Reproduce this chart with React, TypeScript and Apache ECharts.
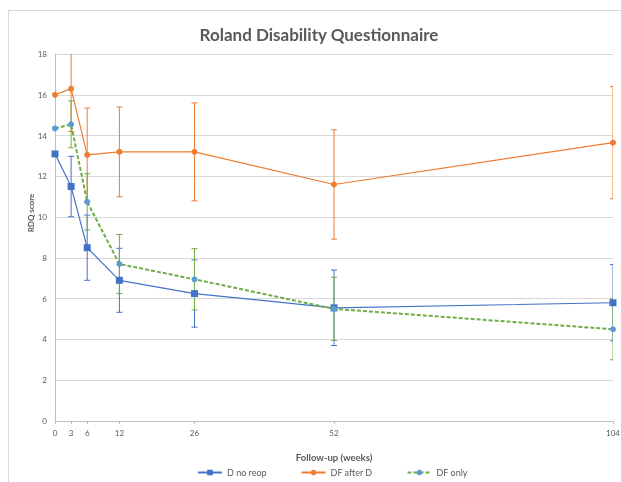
import React, { useEffect, useRef } from "react";
import * as echarts from "echarts";

const weeks = [0, 3, 6, 12, 26, 52, 104];
const xTickLabels = [0, 3, 6, 12, 26, 52, 104];

const dNoReop = [13.1, 11.5, 8.5, 6.9, 6.25, 5.55, 5.8];
const dNoReopErr = [0, 1.48, 1.6, 1.57, 1.65, 1.85, 1.87];

const dfAfterD = [16.0, 16.3, 13.05, 13.2, 13.2, 11.6, 13.65];
const dfAfterDErr = [0, 2.1, 2.3, 2.2, 2.4, 2.68, 2.75];

const dfOnly = [14.35, 14.55, 10.75, 7.7, 6.95, 5.5, 4.5];
const dfOnlyErr = [0, 1.15, 1.38, 1.45, 1.5, 1.55, 1.5];

const BLUE = "#4472C4";
const ORANGE = "#ED7D31";
const GREEN = "#70AD47";
const LBLUE = "#5B9BD5";

function errSeries(name: string, vals: number[], errs: number[], color: string) {
  const data = weeks
    .map((w, i) => [w, vals[i] - errs[i], vals[i] + errs[i]])
    .filter((_, i) => errs[i] > 0);
  return {
    type: "custom",
    name: name + "-err",
    silent: true,
    clip: true,
    z: 1,
    renderItem: (params: any, api: any) => {
      const x = api.value(0);
      const lo = api.coord([x, api.value(1)]);
      const hi = api.coord([x, api.value(2)]);
      const cw = 3;
      const style = { stroke: color, lineWidth: 1, fill: "none" };
      return {
        type: "group",
        children: [
          { type: "line", shape: { x1: lo[0], y1: lo[1], x2: hi[0], y2: hi[1] }, style },
          { type: "line", shape: { x1: lo[0] - cw, y1: lo[1], x2: lo[0] + cw, y2: lo[1] }, style },
          { type: "line", shape: { x1: hi[0] - cw, y1: hi[1], x2: hi[0] + cw, y2: hi[1] }, style },
        ],
      };
    },
    encode: { x: 0, y: [1, 2] },
    data,
  };
}

export default function App() {
  const ref = useRef<HTMLDivElement>(null);
  useEffect(() => {
    if (!ref.current) return;
    const chart = echarts.init(ref.current, undefined, { renderer: "svg" });
    const font = "Lato, 'Open Sans', sans-serif";
    chart.setOption({
      animation: false,
      title: {
        text: "Roland Disability Questionnaire",
        left: 305,
        textAlign: "center",
        top: 10,
        textStyle: { fontFamily: font, fontSize: 17, fontWeight: "bold", color: "#595959" },
      },
      grid: { left: 46, right: 8, top: 43, bottom: 61, outerBoundsMode: "none" },
      legend: {
        bottom: 0,
        left: 183,
        itemGap: 34,
        itemWidth: 24,
        itemHeight: 7,
        textStyle: { fontFamily: font, fontSize: 9, color: "#595959" },
        data: ["D no reop", "DF after D", "DF only"],
      },
      graphic: [
        {
          type: "text",
          x: 22,
          y: 202,
          rotation: Math.PI / 2,
          style: {
            text: "RDQ score",
            fontFamily: font,
            fontSize: 8,
            fontWeight: "bold",
            fill: "#595959",
            textAlign: "center",
            textVerticalAlign: "middle",
          },
        },
      ],
      xAxis: {
        type: "value",
        min: 0,
        max: 104,
        name: "Follow-up (weeks)",
        nameLocation: "middle",
        nameGap: 31,
        nameTextStyle: { fontFamily: font, fontSize: 9.5, fontWeight: "bold", color: "#595959" },
        axisLine: { show: true, lineStyle: { color: "#BFBFBF" } },
        axisTick: { show: true, customValues: xTickLabels, length: 3, lineStyle: { color: "#BFBFBF" } },
        axisLabel: {
          customValues: xTickLabels,
          fontFamily: font,
          fontSize: 8,
          color: "#595959",
          margin: 8,
          showMaxLabel: true,
          hideOverlap: false,
        },
        splitLine: { show: false },
      },
      yAxis: {
        type: "value",
        min: 0,
        max: 18,
        interval: 2,
        axisLine: { show: true, lineStyle: { color: "#BFBFBF" } },
        axisTick: { show: false },
        axisLabel: { fontFamily: font, fontSize: 8, color: "#595959", margin: 8 },
        splitLine: { show: true, lineStyle: { color: "#D9D9D9" } },
      },
      series: [
        errSeries("D no reop", dNoReop, dNoReopErr, BLUE),
        errSeries("DF after D", dfAfterD, dfAfterDErr, ORANGE),
        errSeries("DF only", dfOnly, dfOnlyErr, GREEN),
        {
          type: "line",
          name: "D no reop",
          data: weeks.map((w, i) => [w, dNoReop[i]]),
          symbol: "rect",
          symbolSize: 7,
          itemStyle: { color: BLUE },
          lineStyle: { color: BLUE, width: 1.2 },
          z: 3,
        },
        {
          type: "line",
          name: "DF after D",
          data: weeks.map((w, i) => [w, dfAfterD[i]]),
          symbol: "circle",
          symbolSize: 6,
          itemStyle: { color: ORANGE },
          lineStyle: { color: ORANGE, width: 1.2 },
          z: 3,
        },
        {
          type: "line",
          name: "DF only",
          data: weeks.map((w, i) => [w, dfOnly[i]]),
          symbol: "circle",
          symbolSize: 6,
          itemStyle: { color: LBLUE },
          lineStyle: { color: GREEN, width: 2, type: [4, 2] },
          z: 4,
        },
      ],
    });
    return () => chart.dispose();
  }, []);
  return (
    <div
      ref={ref}
      style={{
        position: "fixed",
        left: 8,
        top: 10,
        width: 613,
        height: 472,
        borderTop: "1px solid #D9D9D9",
        borderLeft: "1px solid #D9D9D9",
        boxSizing: "border-box",
      }}
    />
  );
}
